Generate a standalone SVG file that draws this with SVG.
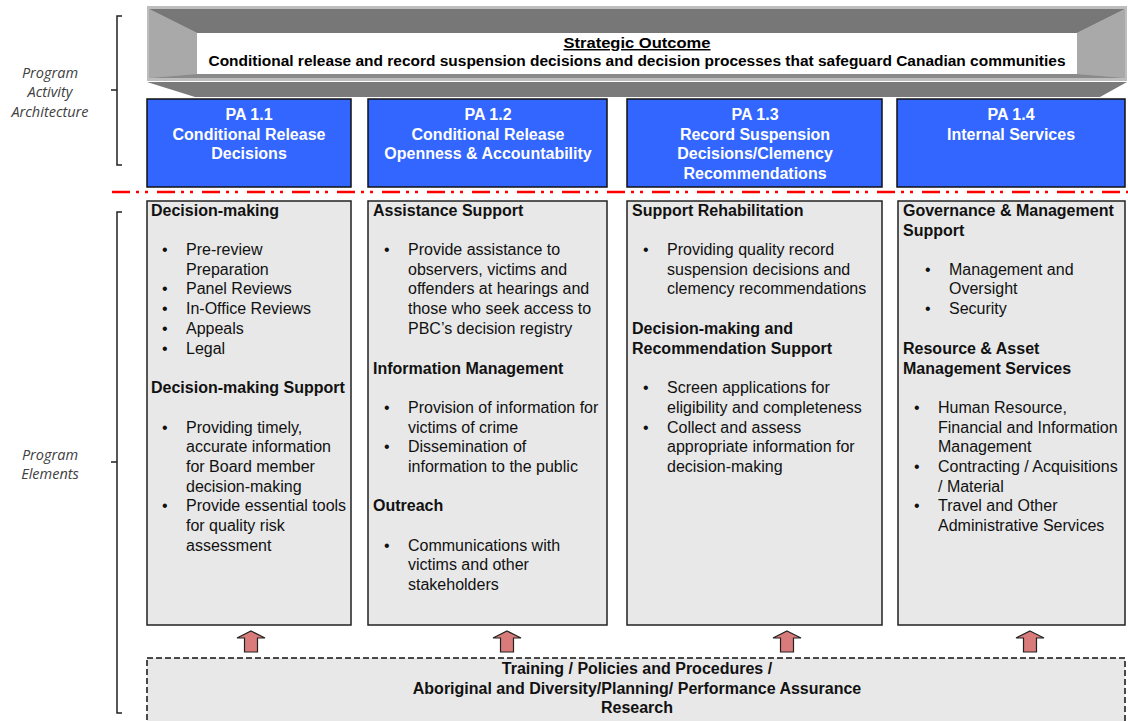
<svg xmlns="http://www.w3.org/2000/svg" width="1128" height="721" viewBox="0 0 1128 721">
  <style>
    .side { font-family: "Open Sans", "Liberation Sans", sans-serif; font-style: italic; font-size: 14.5px; fill: #404040; text-anchor: middle; }
    .pa { font-family: "Liberation Sans", Arial, sans-serif; font-weight: bold; font-size: 16px; fill: #ffffff; text-anchor: middle; }
    .pabox { fill: #3366ff; stroke: #111111; stroke-width: 1.5; }
    .elbox { fill: #e8e8e8; stroke: #222222; stroke-width: 1.5; }
    .h { font-family: "Liberation Sans", Arial, sans-serif; font-weight: bold; font-size: 16px; fill: #111111; }
    .t { font-family: "Liberation Sans", Arial, sans-serif; font-size: 16px; fill: #111111; }
    .so { font-family: "Liberation Sans", Arial, sans-serif; font-weight: bold; font-size: 14.5px; fill: #000000; text-anchor: middle; }
    .base { font-family: "Liberation Sans", Arial, sans-serif; font-weight: bold; font-size: 16px; fill: #111111; text-anchor: middle; }
    .brace { fill: none; stroke: #222222; stroke-width: 1.5; }
    .arrow { fill: #d97b7b; stroke: #222222; stroke-width: 1.2; }
  </style>
  <defs>
    <path id="upArrow" d="M0,631 L14,638 L6.5,638 L6.5,652 L-6.5,652 L-6.5,638 L-14,638 Z"/>
  </defs>

  <rect width="1128" height="721" fill="#ffffff"/>

  <!-- side labels and brackets -->
  <g id="label-paa">
    <path class="brace" d="M122,16 L117,16 L117,165 L122,165 M117,90 L111,90"/>
    <text class="side" x="50" y="78">Program</text>
    <text class="side" x="50" y="97">Activity</text>
    <text class="side" x="50" y="117">Architecture</text>
  </g>
  <g id="label-elements">
    <path class="brace" d="M122,212 L117,212 L117,713 L122,713 M117,462 L111,462"/>
    <text class="side" x="50" y="460">Program</text>
    <text class="side" x="50" y="479">Elements</text>
  </g>

  <!-- strategic outcome banner (bevelled frame) -->
  <g id="strategic-outcome">
    <polygon points="147,82 1127,82 1100,97 195,97" fill="#7a7a7a"/>
    <rect x="147" y="6" width="980" height="75" fill="#bdbdbd"/>
    <polygon points="149,9 1125,9 1077,33 197,33" fill="#777777"/>
    <polygon points="149,9 197,33 197,74 149,78" fill="#a9a9a9"/>
    <polygon points="1125,9 1077,33 1077,74 1125,78" fill="#a9a9a9"/>
    <polygon points="149,78 197,74 1077,74 1125,78" fill="#8a8a8a"/>
    <rect x="197" y="33" width="880" height="41" fill="#ffffff"/>
    <text class="so" x="637" y="48" textLength="147" lengthAdjust="spacingAndGlyphs" text-decoration="underline">Strategic Outcome</text>
    <text class="so" x="637" y="66" textLength="857" lengthAdjust="spacingAndGlyphs">Conditional release and record suspension decisions and decision processes that safeguard Canadian communities</text>
  </g>

  <!-- program activities -->
  <g id="pa-1-1">
    <rect class="pabox" x="147" y="99" width="204" height="88"/>
    <text class="pa" x="249" y="120">PA 1.1</text>
    <text class="pa" x="249" y="140">Conditional Release</text>
    <text class="pa" x="249" y="159">Decisions</text>
  </g>
  <g id="pa-1-2">
    <rect class="pabox" x="368" y="99" width="239" height="88"/>
    <text class="pa" x="488" y="120">PA 1.2</text>
    <text class="pa" x="488" y="140">Conditional Release</text>
    <text class="pa" x="488" y="159">Openness &amp; Accountability</text>
  </g>
  <g id="pa-1-3">
    <rect class="pabox" x="627" y="99" width="255" height="88"/>
    <text class="pa" x="755" y="120">PA 1.3</text>
    <text class="pa" x="755" y="140">Record Suspension</text>
    <text class="pa" x="755" y="159">Decisions/Clemency</text>
    <text class="pa" x="755" y="179">Recommendations</text>
  </g>
  <g id="pa-1-4">
    <rect class="pabox" x="897" y="99" width="228" height="88"/>
    <text class="pa" x="1011" y="120">PA 1.4</text>
    <text class="pa" x="1011" y="140">Internal Services</text>
  </g>

  <!-- divider between architecture and elements -->
  <line x1="112" y1="192" x2="1128" y2="192" stroke="#ff0000" stroke-width="2.5" stroke-dasharray="18 6 3 6 3 9"/>

  <!-- program elements -->
  <g id="elements-1-1">
    <rect class="elbox" x="147" y="201" width="204" height="424"/>
    <text class="h" x="151" y="216">Decision-making</text>
    <text class="t" x="162" y="255">•</text><text class="t" x="186" y="255">Pre-review</text>
    <text class="t" x="186" y="275">Preparation</text>
    <text class="t" x="162" y="294">•</text><text class="t" x="186" y="294">Panel Reviews</text>
    <text class="t" x="162" y="314">•</text><text class="t" x="186" y="314">In-Office Reviews</text>
    <text class="t" x="162" y="334">•</text><text class="t" x="186" y="334">Appeals</text>
    <text class="t" x="162" y="354">•</text><text class="t" x="186" y="354">Legal</text>
    <text class="h" x="151" y="393">Decision-making Support</text>
    <text class="t" x="162" y="433">•</text><text class="t" x="186" y="433">Providing timely,</text>
    <text class="t" x="186" y="452">accurate information</text>
    <text class="t" x="186" y="472">for Board member</text>
    <text class="t" x="186" y="492">decision-making</text>
    <text class="t" x="162" y="511">•</text><text class="t" x="186" y="511">Provide essential tools</text>
    <text class="t" x="186" y="531">for quality risk</text>
    <text class="t" x="186" y="551">assessment</text>
  </g>
  <g id="elements-1-2">
    <rect class="elbox" x="368" y="201" width="239" height="424"/>
    <text class="h" x="373" y="216">Assistance Support</text>
    <text class="t" x="384" y="255">•</text><text class="t" x="408" y="255">Provide assistance to</text>
    <text class="t" x="408" y="275">observers, victims and</text>
    <text class="t" x="408" y="294">offenders at hearings and</text>
    <text class="t" x="408" y="314">those who seek access to</text>
    <text class="t" x="408" y="334">PBC’s decision registry</text>
    <text class="h" x="373" y="374">Information Management</text>
    <text class="t" x="384" y="413">•</text><text class="t" x="408" y="413">Provision of information for</text>
    <text class="t" x="408" y="433">victims of crime</text>
    <text class="t" x="384" y="452">•</text><text class="t" x="408" y="452">Dissemination of</text>
    <text class="t" x="408" y="472">information to the public</text>
    <text class="h" x="373" y="511">Outreach</text>
    <text class="t" x="384" y="551">•</text><text class="t" x="408" y="551">Communications with</text>
    <text class="t" x="408" y="570">victims and other</text>
    <text class="t" x="408" y="590">stakeholders</text>
  </g>
  <g id="elements-1-3">
    <rect class="elbox" x="627" y="201" width="255" height="424"/>
    <text class="h" x="632" y="216">Support Rehabilitation</text>
    <text class="t" x="643" y="255">•</text><text class="t" x="667" y="255">Providing quality record</text>
    <text class="t" x="667" y="275">suspension decisions and</text>
    <text class="t" x="667" y="294">clemency recommendations</text>
    <text class="h" x="632" y="334">Decision-making and</text>
    <text class="h" x="632" y="354">Recommendation Support</text>
    <text class="t" x="643" y="393">•</text><text class="t" x="667" y="393">Screen applications for</text>
    <text class="t" x="667" y="413">eligibility and completeness</text>
    <text class="t" x="643" y="433">•</text><text class="t" x="667" y="433">Collect and assess</text>
    <text class="t" x="667" y="452">appropriate information for</text>
    <text class="t" x="667" y="472">decision-making</text>
  </g>
  <g id="elements-1-4">
    <rect class="elbox" x="898" y="201" width="227" height="424"/>
    <text class="h" x="903" y="216">Governance &amp; Management</text>
    <text class="h" x="903" y="236">Support</text>
    <text class="t" x="925" y="275">•</text><text class="t" x="949" y="275">Management and</text>
    <text class="t" x="949" y="294">Oversight</text>
    <text class="t" x="925" y="314">•</text><text class="t" x="949" y="314">Security</text>
    <text class="h" x="903" y="354">Resource &amp; Asset</text>
    <text class="h" x="903" y="374">Management Services</text>
    <text class="t" x="914" y="413">•</text><text class="t" x="938" y="413">Human Resource,</text>
    <text class="t" x="938" y="433">Financial and Information</text>
    <text class="t" x="938" y="452">Management</text>
    <text class="t" x="914" y="472">•</text><text class="t" x="938" y="472">Contracting / Acquisitions</text>
    <text class="t" x="938" y="492">/ Material</text>
    <text class="t" x="914" y="511">•</text><text class="t" x="938" y="511">Travel and Other</text>
    <text class="t" x="938" y="531">Administrative Services</text>
  </g>

  <!-- foundation supporting every activity -->
  <g id="foundation">
    <rect x="147" y="658" width="978" height="70" fill="#e8e8e8" stroke="#111111" stroke-width="1.5" stroke-dasharray="6 3"/>
    <text class="base" x="637" y="674">Training / Policies and Procedures /</text>
    <text class="base" x="637" y="694">Aboriginal and Diversity/Planning/ Performance Assurance</text>
    <text class="base" x="637" y="713">Research</text>
  </g>

  <g id="connectors">
    <use href="#upArrow" class="arrow" transform="translate(251,0)"/>
    <use href="#upArrow" class="arrow" transform="translate(507,0)"/>
    <use href="#upArrow" class="arrow" transform="translate(787,0)"/>
    <use href="#upArrow" class="arrow" transform="translate(1030,0)"/>
  </g>
</svg>
